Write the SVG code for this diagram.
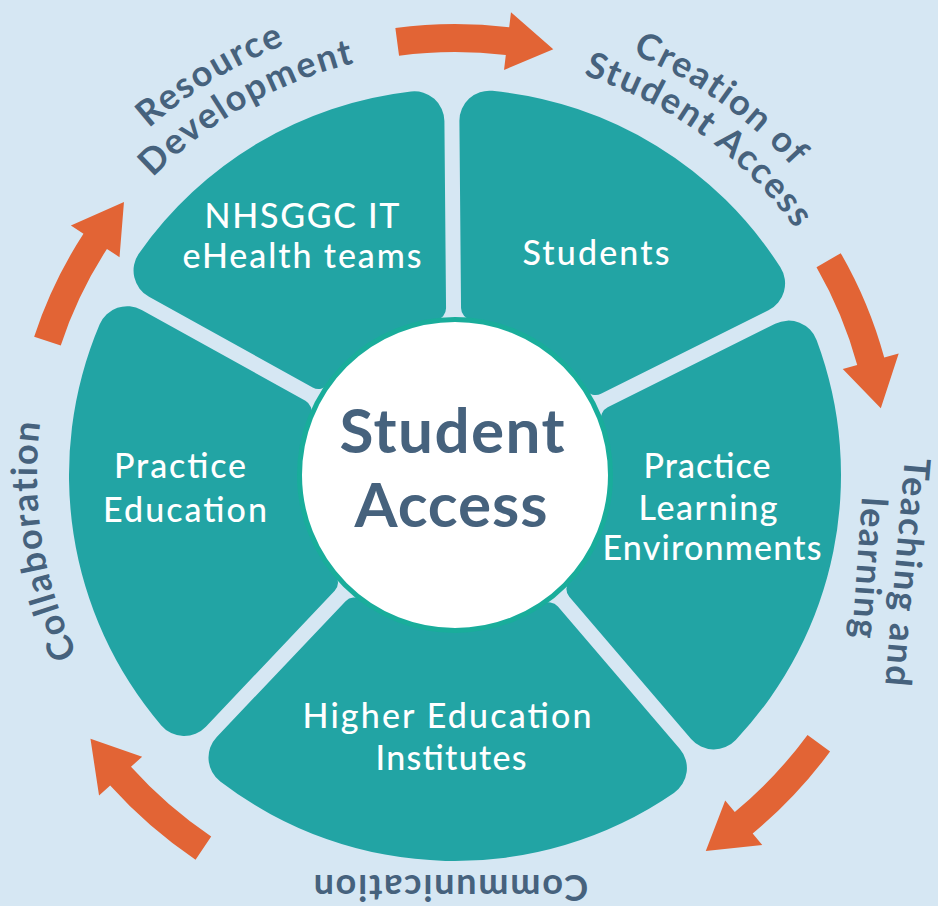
<svg xmlns="http://www.w3.org/2000/svg" width="938" height="906" viewBox="0 0 938 906">
  <style>
    .seg { fill: #22a4a4; }
    .arrow { fill: #e26435; }
    .lbl { fill: #ffffff; font-family: "Lato", "Liberation Sans", sans-serif; font-size: 34px; font-weight: 500; text-anchor: middle; }
    .core { fill: #46627d; font-family: "Lato", "Liberation Sans", sans-serif; font-size: 62px; font-weight: 700; text-anchor: middle; }
    .stage { fill: #46627d; font-family: "Lato", "Liberation Sans", sans-serif; font-size: 36px; font-weight: 700; letter-spacing: 1.8px; }
  </style>
  <defs>
    <path id="p-res" d="M 16.49 328.47 A 463 463 0 0 1 524.58 17.29"/>
    <path id="p-dev" d="M 57.85 326.51 A 424 424 0 0 1 532.27 58.10"/>
    <path id="p-cre" d="M 417.55 19.54 A 457 457 0 0 1 897.04 359.03"/>
    <path id="p-stu" d="M 426.43 55.97 A 420 420 0 0 1 862.70 374.10"/>
    <path id="p-col" d="M 180.77 790.47 A 418 418 0 0 1 96.70 259.71"/>
  </defs>

  <rect x="0" y="0" width="938" height="906" fill="#d6e7f3"/>

  <g id="node-students">
    <path class="seg" d="M 461.04 308.07 L 459.41 120.93 A 30 30 0 0 1 492.31 90.81 A 386 386 0 0 1 780.37 267.33 A 30 30 0 0 1 768.47 310.33 L 600.98 393.84 A 12 12 0 0 1 585.58 389.66 A 156 156 0 0 0 471.75 319.90 A 12 12 0 0 1 461.04 308.07 Z"/>
    <text class="lbl" x="596" y="265" textLength="147">Students</text>
  </g>

  <g id="node-practice-learning-environments">
    <path class="seg" d="M 607.68 407.26 L 775.17 323.75 A 30 30 0 0 1 816.67 340.13 A 386 386 0 0 1 735.73 739.93 A 30 30 0 0 1 691.08 738.92 L 569.28 596.81 A 12 12 0 0 1 569.61 580.84 A 156 156 0 0 0 601.74 422.07 A 12 12 0 0 1 607.68 407.26 Z"/>
    <text class="lbl" x="707" y="478" textLength="127">Practice</text>
    <text class="lbl" x="708" y="520" textLength="139">Learning</text>
    <text class="lbl" x="712" y="560" textLength="219">Environments</text>
  </g>

  <g id="node-higher-education-institutes">
    <path class="seg" d="M 557.90 606.57 L 679.70 748.68 A 30 30 0 0 1 673.92 792.92 A 386 386 0 0 1 220.28 781.44 A 30 30 0 0 1 216.75 736.95 L 345.58 601.19 A 12 12 0 0 1 361.48 599.86 A 156 156 0 0 0 542.08 604.43 A 12 12 0 0 1 557.90 606.57 Z"/>
    <text class="lbl" x="447" y="728" textLength="289">Higher Education</text>
    <text class="lbl" x="451" y="770" textLength="151">Institutes</text>
  </g>

  <g id="node-practice-education">
    <path class="seg" d="M 334.70 590.87 L 205.87 726.63 A 30 30 0 0 1 161.27 725.46 A 386 386 0 0 1 99.58 324.46 A 30 30 0 0 1 141.73 309.93 L 305.42 400.66 A 12 12 0 0 1 310.70 415.71 A 156 156 0 0 0 335.23 574.95 A 12 12 0 0 1 334.70 590.87 Z"/>
    <text class="lbl" x="180" y="478" textLength="132">Practice</text>
    <text class="lbl" x="185" y="522" textLength="164">Education</text>
  </g>

  <g id="node-nhsggc-it">
    <path class="seg" d="M 312.70 387.54 L 149.01 296.81 A 30 30 0 0 1 138.96 253.38 A 386 386 0 0 1 410.99 91.52 A 30 30 0 0 1 444.41 121.07 L 446.04 308.21 A 12 12 0 0 1 435.54 320.22 A 156 156 0 0 0 328.24 384.07 A 12 12 0 0 1 312.70 387.54 Z"/>
    <text class="lbl" x="302" y="228" textLength="195">NHSGGC IT</text>
    <text class="lbl" x="302" y="268" textLength="239">eHealth teams</text>
  </g>

  <g id="node-student-access">
    <circle cx="455" cy="475" r="155.5" fill="#ffffff" stroke="#19ad9b" stroke-width="5"/>
    <text class="core" x="452" y="453" textLength="225">Student</text>
    <text class="core" x="451" y="527" textLength="193">Access</text>
  </g>

  <g id="connectors">
    <path class="arrow" d="M 395.35 27.96 A 451 451 0 0 1 509.18 27.27 L 510.99 12.37 L 553.30 49.20 L 504.02 69.95 L 505.82 55.06 A 423 423 0 0 0 399.05 55.71 Z"/>
    <path class="arrow" d="M 840.77 253.17 A 445 445 0 0 1 884.23 357.58 L 898.70 353.62 L 880.81 408.32 L 842.75 368.92 L 857.22 364.97 A 417 417 0 0 0 816.50 267.13 Z"/>
    <path class="arrow" d="M 830.08 751.53 A 466 466 0 0 1 752.67 833.54 L 762.25 845.08 L 705.79 851.04 L 725.20 800.46 L 734.78 812.00 A 438 438 0 0 0 807.54 734.92 Z"/>
    <path class="arrow" d="M 195.54 859.67 A 464 464 0 0 1 110.18 785.48 L 99.04 795.51 L 90.48 738.87 L 142.14 756.70 L 130.99 766.74 A 436 436 0 0 0 211.19 836.46 Z"/>
    <path class="arrow" d="M 34.16 336.64 A 443 443 0 0 1 83.47 233.72 L 70.89 225.55 L 123.97 202.12 L 119.53 257.14 L 106.95 248.97 A 415 415 0 0 0 60.76 345.38 Z"/>
  </g>

  <g id="stage-labels">
    <text class="stage"><textPath href="#p-res" startOffset="50%" text-anchor="middle">Resource</textPath></text>
    <text class="stage"><textPath href="#p-dev" startOffset="50%" text-anchor="middle">Development</textPath></text>
    <text class="stage"><textPath href="#p-cre" startOffset="50%" text-anchor="middle">Creation of</textPath></text>
    <text class="stage"><textPath href="#p-stu" startOffset="50%" text-anchor="middle">Student Access</textPath></text>
    <text class="stage" text-anchor="middle" transform="translate(895 572) rotate(95)">Teaching and</text>
    <text class="stage" text-anchor="middle" transform="translate(857 568) rotate(94)">learning</text>
    <text class="stage" text-anchor="middle" transform="translate(450 875) rotate(180)">Communication</text>
    <text class="stage"><textPath href="#p-col" startOffset="50%" text-anchor="middle">Collaboration</textPath></text>
  </g>
</svg>
